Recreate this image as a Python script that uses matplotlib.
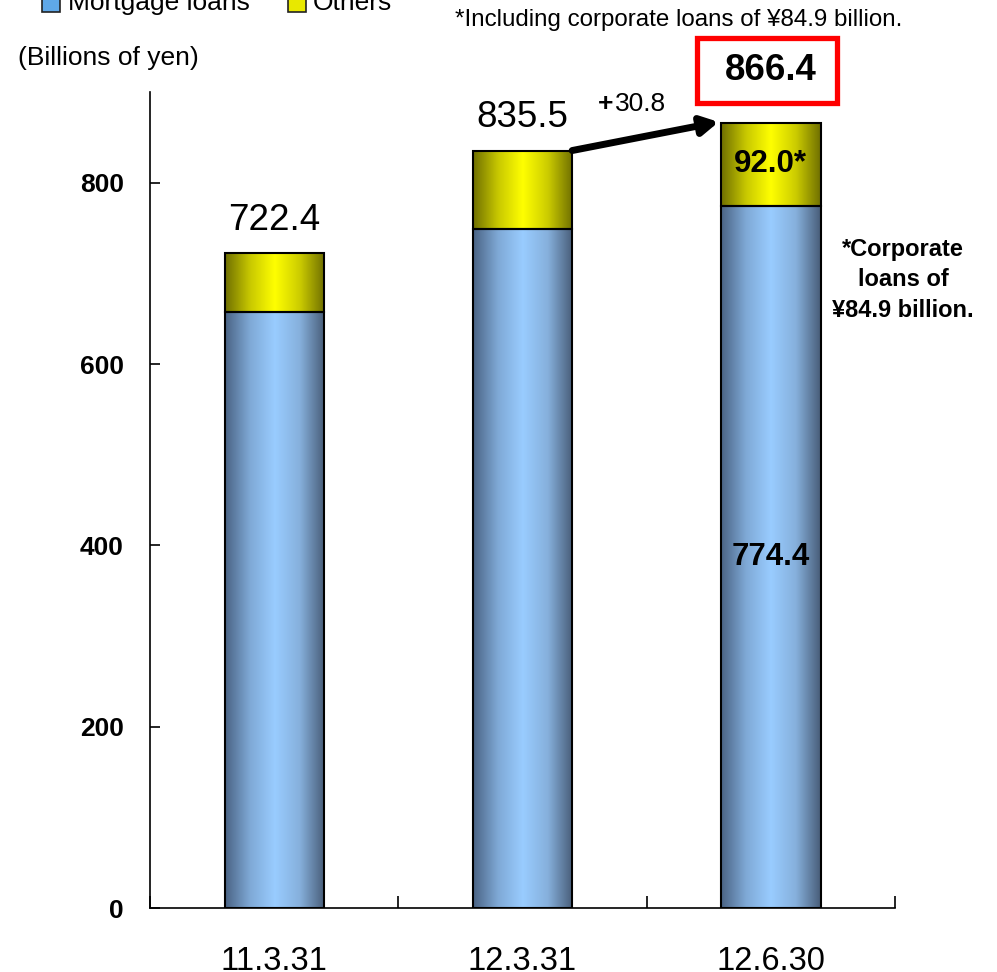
import numpy as np
import matplotlib
matplotlib.use('Agg')
import matplotlib.pyplot as plt
from matplotlib.colors import LinearSegmentedColormap
from matplotlib.patches import Rectangle

plt.rcParams['font.family'] = ['Liberation Sans', 'DejaVu Sans']

# Datos (miles de millones de yenes)
categories = ['11.3.31', '12.3.31', '12.6.30']
mortgage = [656.9, 749.4, 774.4]
others = [65.5, 86.1, 92.0]
totals = [722.4, 835.5, 866.4]
increase = 30.8
yticks = [0, 200, 400, 600, 800]

# Degradados horizontales de las barras
cmap_blue = LinearSegmentedColormap.from_list(
    'blue', ['#4a6384', '#7fa9d6', '#99ccff', '#86b0dc', '#485d78'])
cmap_yellow = LinearSegmentedColormap.from_list(
    'yellow', ['#6f6f00', '#c8c800', '#ffff00', '#cccc00', '#6f6f00'])
grad = np.linspace(0, 1, 256).reshape(1, -1)

fig = plt.figure(figsize=(9.97, 9.72), dpi=100)
ax = fig.add_axes([0.1505, 0.0658, 0.7472, 0.8395])

x = np.arange(len(categories))
width = 0.4

def gradient_bars(xs, heights, bottoms, cmap):
    bars = ax.bar(xs, heights, width, bottom=bottoms, facecolor='none',
                  edgecolor='black', linewidth=1.5, zorder=3)
    for b in bars:
        x0, y0 = b.get_x(), b.get_y()
        im = ax.imshow(grad, extent=[x0, x0 + b.get_width(), y0, y0 + b.get_height()],
                       aspect='auto', cmap=cmap, zorder=2, interpolation='bilinear')
        im.set_clip_path(b)
    return bars

gradient_bars(x, mortgage, 0, cmap_blue)
gradient_bars(x, others, mortgage, cmap_yellow)

ax.set_xlim(-0.5, 2.5)
ax.set_ylim(0, 900)

# Ejes
for s in ['top', 'right']:
    ax.spines[s].set_visible(False)
for s in ['left', 'bottom']:
    ax.spines[s].set_linewidth(1.2)

ax.set_yticks(yticks)
ax.set_yticklabels([str(v) for v in yticks], fontsize=19, fontweight='bold')
ax.tick_params(axis='y', direction='in', length=7, width=1.2, pad=19)

ax.set_xticks(x)
ax.set_xticklabels(categories, fontsize=23.5)
ax.set_xticks([-0.5, 0.5, 1.5, 2.5], minor=True)
ax.tick_params(axis='x', which='major', length=0, pad=27)
ax.tick_params(axis='x', which='minor', direction='in', length=9, width=1.2)

# Totales
for i in range(2):
    ax.text(x[i], totals[i] + 36, f'{totals[i]:.1f}', ha='center', va='center', fontsize=26.5)

ax.text(x[2], mortgage[2] / 2, f'{mortgage[2]:.1f}', ha='center', va='center',
        fontsize=22.5, fontweight='bold', zorder=5)
ax.text(x[2], mortgage[2] + others[2] / 2, f'{others[2]:.1f}*', ha='center', va='center',
        fontsize=22.5, fontweight='bold', zorder=5)

# Caja roja con el total
ax.add_patch(Rectangle((1.704, 888), 0.564, 72, fill=False, edgecolor='#ff0000',
                       linewidth=3.8, clip_on=False, zorder=5))
ax.text(x[2], 924, f'{totals[2]:.1f}', ha='center', va='center', fontsize=26.5,
        fontweight='bold', clip_on=False)

# Flecha de incremento
ax.annotate('', xy=(1.79, 867), xytext=(1.2, 835.5),
            arrowprops=dict(arrowstyle='-|>,head_length=1.0,head_width=0.55',
                            lw=5, color='black', shrinkA=0, shrinkB=0),
            annotation_clip=False)
ax.text(1.367, 887, '+', ha='right', va='center', fontsize=19, fontweight='bold')
ax.text(1.372, 887, f'{increase:.1f}', ha='left', va='center', fontsize=19)

# Notas
fig.text(0.9057, (972 - 280) / 972, '*Corporate\nloans of\n¥84.9 billion.', ha='center',
         va='center', fontsize=17, fontweight='bold', linespacing=1.4)
fig.text(455 / 997, (972 - 20) / 972, '*Including corporate loans of ¥84.9 billion.',
         ha='left', va='center', fontsize=17.4)
fig.text(18 / 997, (972 - 58) / 972, '(Billions of yen)', ha='left', va='center', fontsize=19)

# Leyenda (cortada arriba como en el original)
fig.patches.append(Rectangle((42 / 997, (972 - 12) / 972), 18 / 997, 20 / 972,
                             transform=fig.transFigure, facecolor='#5fa8e8',
                             edgecolor='#222222', linewidth=1.2))
fig.patches.append(Rectangle((288 / 997, (972 - 12) / 972), 18 / 997, 20 / 972,
                             transform=fig.transFigure, facecolor='#e8e800',
                             edgecolor='#222222', linewidth=1.2))
fig.text(68 / 997, (972 - 10) / 972, 'Mortgage loans', ha='left', va='baseline', fontsize=19)
fig.text(313 / 997, (972 - 10) / 972, 'Others', ha='left', va='baseline', fontsize=19)

fig.savefig('out.png', dpi=100)
